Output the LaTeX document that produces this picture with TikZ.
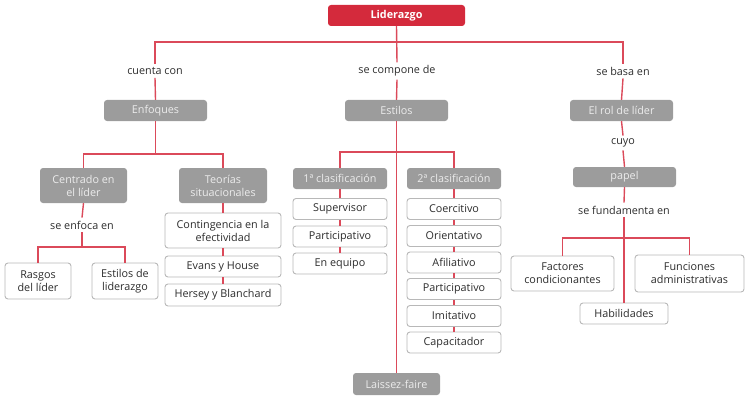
\documentclass[tikz,border=0pt]{standalone}
\usepackage{fontspec}
\setmainfont{Open Sans}
\definecolor{lred}{HTML}{D42A3C}
\definecolor{ared}{HTML}{DB4A5A}
\definecolor{gfill}{HTML}{9C9C9C}
\definecolor{gtext}{HTML}{ECECEC}
\definecolor{gline}{HTML}{B8B8B8}
\definecolor{tdark}{HTML}{2C2C2C}
\tikzset{
  base/.style={inner sep=0pt, align=center, font=\fontsize{10.8}{13}\selectfont, rounded corners=3pt},
  redbox/.style={base, fill=lred, text=white, font=\fontsize{10.8}{13}\selectfont\bfseries},
  graybox/.style={base, fill=gfill, text=gtext},
  whitebox/.style={base, draw=gline, line width=0.9pt, fill=white, text=tdark},
  lbl/.style={inner sep=3pt, text=tdark, font=\fontsize{10.8}{13}\selectfont},
  con/.style={draw=ared, line width=1.4pt},
}
\begin{document}
\begin{tikzpicture}[x=1pt,y=-1pt]
\useasboundingbox (0,0) rectangle (751,401);
% nodes
\node[redbox, minimum width=137pt, minimum height=21pt] (lid) at (396.5,15.5) {Liderazgo};
\node[lbl] (cuenta) at (155,71) {cuenta con};
\node[lbl] (compone) at (397,71) {se compone de};
\node[lbl] (basa) at (623,71) {se basa en};
\node[graybox, minimum width=103pt, minimum height=21pt] (enf) at (155.5,110.5) {Enfoques};
\node[graybox, minimum width=103pt, minimum height=21pt] (est) at (396.5,110.5) {Estilos};
\node[graybox, minimum width=103pt, minimum height=21pt] (rol) at (621.5,110.5) {El rol de líder};
\node[lbl] (cuyo) at (623,143) {cuyo};
\node[graybox, minimum width=103pt, minimum height=20pt] (papel) at (624.5,177) {papel};
\node[lbl] (fund) at (624,210) {se fundamenta en};
% Enfoques branch
\node[graybox, minimum width=87pt, minimum height=35pt] (centrado) at (83.5,185.5) {Centrado en\\el líder};
\node[graybox, minimum width=88pt, minimum height=35pt] (teorias) at (223,185.5) {Teorías\\situacionales};
\node[lbl] (enfoca) at (82,225) {se enfoca en};
\node[whitebox, minimum width=66pt, minimum height=36pt] (rasgos) at (38,281) {Rasgos\\del líder};
\node[whitebox, minimum width=66pt, minimum height=36pt] (estlid) at (125,281) {Estilos de\\liderazgo};
\node[whitebox, minimum width=116pt, minimum height=35pt] (conting) at (223,230.5) {Contingencia en la\\efectividad};
\node[whitebox, minimum width=116pt, minimum height=21pt] (evans) at (223,266.5) {Evans y House};
\node[whitebox, minimum width=116pt, minimum height=22pt] (hersey) at (223,295) {Hersey y Blanchard};
% Estilos branch
\node[graybox, minimum width=94pt, minimum height=21pt] (c1) at (340,178.5) {1ª clasificación};
\node[graybox, minimum width=94pt, minimum height=21pt] (c2) at (454,178.5) {2ª clasificación};
\node[whitebox, minimum width=94pt, minimum height=21pt] (sup) at (340,209) {Supervisor};
\node[whitebox, minimum width=94pt, minimum height=21pt] (part1) at (340,236.5) {Participativo};
\node[whitebox, minimum width=94pt, minimum height=21pt] (equipo) at (340,263.5) {En equipo};
\node[whitebox, minimum width=94pt, minimum height=21pt] (coer) at (454,209) {Coercitivo};
\node[whitebox, minimum width=94pt, minimum height=21pt] (orient) at (454,236) {Orientativo};
\node[whitebox, minimum width=94pt, minimum height=21pt] (afil) at (454,262.5) {Afiliativo};
\node[whitebox, minimum width=94pt, minimum height=21pt] (part2) at (454,289) {Participativo};
\node[whitebox, minimum width=94pt, minimum height=21pt] (imit) at (454,316) {Imitativo};
\node[whitebox, minimum width=94pt, minimum height=21pt] (capac) at (454,342.5) {Capacitador};
\node[graybox, minimum width=87pt, minimum height=22pt] (laissez) at (396.5,384) {Laissez-faire};
% Rol branch
\node[whitebox, minimum width=103pt, minimum height=35pt] (factores) at (562.5,273.5) {Factores\\condicionantes};
\node[whitebox, minimum width=109pt, minimum height=37pt] (funciones) at (689.5,273.5) {Funciones\\administrativas};
\node[whitebox, minimum width=88pt, minimum height=21pt] (habil) at (624,313.5) {Habilidades};
% junction coordinates
\coordinate (top) at (397,42);
\coordinate (ej) at (155.5,154);
\coordinate (fj) at (82,247);
\coordinate (esj) at (396.5,152);
\coordinate (rj) at (624,238);
% connectors
\path[con] (lid.south) -- (compone.north);
\path[con] (cuenta.north) |- (top) -| (basa.north);
\path[con] (cuenta.south) -- (enf.north);
\path[con] (compone.south) -- (est.north);
\path[con] (basa.south) -- (rol.north);
\path[con] (rol.south) -- (cuyo.north);
\path[con] (cuyo.south) -- (papel.north);
\path[con] (papel.south) -- (fund.north);
\path[con] (enf.south) -- (ej);
\path[con] (centrado.north) |- (ej) -| (teorias.north);
\path[con] (centrado.south) -- (enfoca.north);
\path[con] (enfoca.south) -- (fj);
\path[con] (rasgos.north) |- (fj) -| (estlid.north);
\path[con] (teorias.south) -- (conting.north);
\path[con] (conting.south) -- (evans.north);
\path[con] (evans.south) -- (hersey.north);
\path[con] (est.south) -- (laissez.north);
\path[con] (c1.north) |- (esj) -| (c2.north);
\path[con] (c1.south) -- (sup.north);
\path[con] (sup.south) -- (part1.north);
\path[con] (part1.south) -- (equipo.north);
\path[con] (c2.south) -- (coer.north);
\path[con] (coer.south) -- (orient.north);
\path[con] (orient.south) -- (afil.north);
\path[con] (afil.south) -- (part2.north);
\path[con] (part2.south) -- (imit.north);
\path[con] (imit.south) -- (capac.north);
\path[con] (fund.south) -- (habil.north);
\path[con] (factores.north) |- (rj) -| (funciones.north);
\end{tikzpicture}
\end{document}
